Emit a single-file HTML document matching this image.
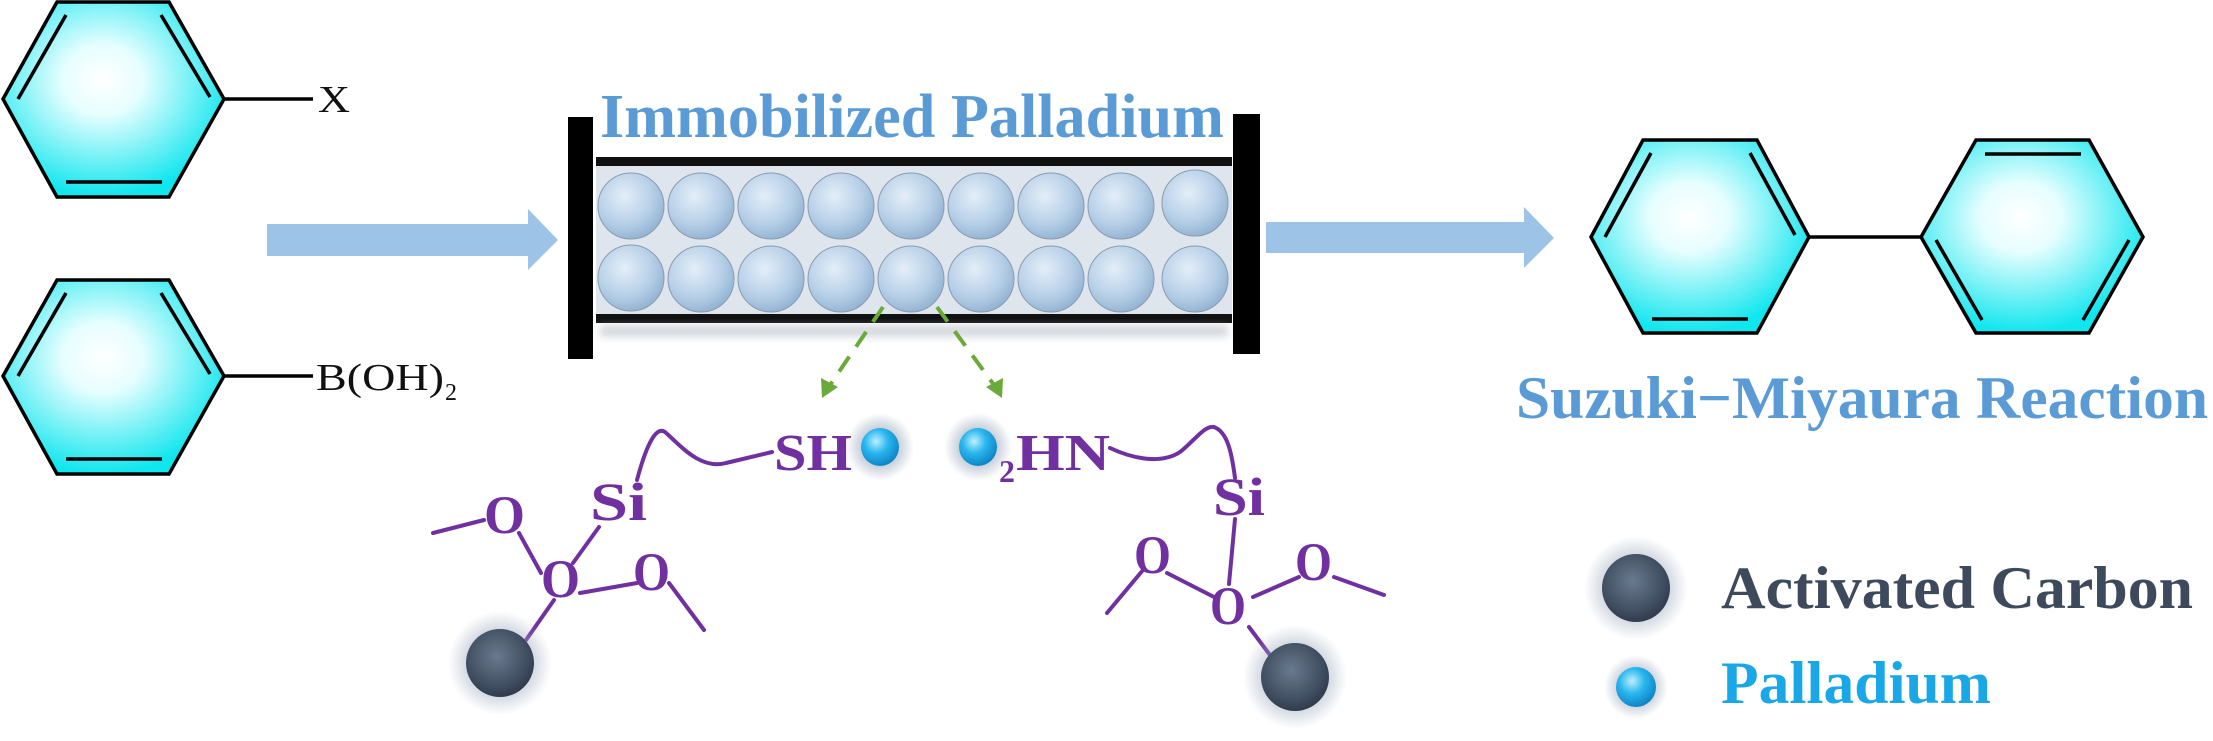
<!DOCTYPE html>
<html><head><meta charset="utf-8"><style>
html,body{margin:0;padding:0;background:#fff;}
svg{display:block;}
text{font-family:"Liberation Serif","Times New Roman",serif;}
</style></head><body>
<svg width="2213" height="741" viewBox="0 0 2213 741" xmlns="http://www.w3.org/2000/svg">
<defs>
<radialGradient id="bz" cx="0.45" cy="0.4" r="0.6">
<stop offset="0" stop-color="#ffffff"/><stop offset="0.3" stop-color="#e6feff"/><stop offset="1" stop-color="#10e6ee"/>
</radialGradient>
<radialGradient id="ball" cx="0.4" cy="0.35" r="0.7">
<stop offset="0" stop-color="#e4eef8"/><stop offset="0.6" stop-color="#b7d0e8"/><stop offset="1" stop-color="#8fb0d0"/>
</radialGradient>
<radialGradient id="carb" cx="0.45" cy="0.4" r="0.65">
<stop offset="0" stop-color="#6a7a8e"/><stop offset="0.7" stop-color="#3f4d60"/><stop offset="1" stop-color="#2c3646"/>
</radialGradient>
<radialGradient id="pd" cx="0.4" cy="0.35" r="0.7">
<stop offset="0" stop-color="#bdf0ff"/><stop offset="0.45" stop-color="#2ab6ee"/><stop offset="1" stop-color="#0a7fc0"/>
</radialGradient>
<radialGradient id="glow" cx="0.5" cy="0.5" r="0.5">
<stop offset="0.5" stop-color="#9aa8bc" stop-opacity="0.6"/><stop offset="1" stop-color="#9aa8bc" stop-opacity="0"/>
</radialGradient>
<filter id="blur" x="-20%" y="-50%" width="140%" height="200%"><feGaussianBlur stdDeviation="4"/></filter>
</defs>

<g stroke="#000" stroke-width="3.5" fill="none">
<polygon points="57,2 169,2 224,99 169,197 57,197 3,99" fill="url(#bz)"/>
<line x1="66" y1="15" x2="18" y2="99"/>
<line x1="161" y1="15" x2="210" y2="97"/>
<line x1="66" y1="182" x2="162" y2="182"/>
<line x1="224" y1="99" x2="313" y2="99"/>
</g>
<text x="318" y="112" font-size="38" fill="#111" textLength="32" lengthAdjust="spacingAndGlyphs">X</text>

<g stroke="#000" stroke-width="3.5" fill="none">
<polygon points="57,280 169,280 224,376 169,474 57,474 3,376" fill="url(#bz)"/>
<line x1="66" y1="293" x2="18" y2="376"/>
<line x1="161" y1="293" x2="210" y2="374"/>
<line x1="66" y1="459" x2="162" y2="459"/>
<line x1="224" y1="376" x2="313" y2="376"/>
</g>
<text x="316" y="390" font-size="38" fill="#111" textLength="128" lengthAdjust="spacingAndGlyphs">B(OH)</text>
<text x="445" y="400" font-size="24" fill="#111">2</text>

<polygon points="267,224 528,224 528,209 558,240 528,270 528,256 267,256" fill="#9dc3e6"/>

<text x="600" y="137" font-weight="bold" font-size="62" fill="#5b9bd5" textLength="624" lengthAdjust="spacingAndGlyphs">Immobilized Palladium</text>
<rect x="596" y="163" width="636" height="154" fill="#dfe5ec"/>
<rect x="596" y="157" width="636" height="9" fill="#111"/>
<rect x="596" y="314" width="636" height="9" fill="#111"/>
<rect x="600" y="325" width="628" height="12" fill="#aab4c0" opacity="0.5" filter="url(#blur)"/>
<g stroke="#8a9cb0" stroke-width="1">
<circle cx="631" cy="206" r="33" fill="url(#ball)"/><circle cx="701" cy="206" r="33" fill="url(#ball)"/><circle cx="771" cy="206" r="33" fill="url(#ball)"/><circle cx="841" cy="206" r="33" fill="url(#ball)"/><circle cx="911" cy="206" r="33" fill="url(#ball)"/><circle cx="981" cy="206" r="33" fill="url(#ball)"/><circle cx="1051" cy="206" r="33" fill="url(#ball)"/><circle cx="1121" cy="206" r="33" fill="url(#ball)"/><circle cx="1195" cy="203" r="33" fill="url(#ball)"/>
<circle cx="631" cy="278" r="33" fill="url(#ball)"/><circle cx="701" cy="279" r="33" fill="url(#ball)"/><circle cx="771" cy="279" r="33" fill="url(#ball)"/><circle cx="841" cy="279" r="33" fill="url(#ball)"/><circle cx="911" cy="279" r="33" fill="url(#ball)"/><circle cx="981" cy="279" r="33" fill="url(#ball)"/><circle cx="1051" cy="279" r="33" fill="url(#ball)"/><circle cx="1121" cy="279" r="33" fill="url(#ball)"/><circle cx="1195" cy="279" r="33" fill="url(#ball)"/>
</g>
<rect x="568" y="117" width="25" height="242" fill="#000"/>
<rect x="1233" y="114" width="27" height="240" fill="#000"/>

<polygon points="1266,222 1524,222 1524,207 1554,238 1524,268 1524,253 1266,253" fill="#9dc3e6"/>

<g stroke="#000" stroke-width="3.5" fill="none">
<polygon points="1643,140 1757,140 1809,237 1757,333 1643,333 1591,237" fill="url(#bz)"/>
<line x1="1651" y1="153" x2="1605" y2="237"/>
<line x1="1750" y1="153" x2="1795" y2="235"/>
<line x1="1652" y1="319" x2="1748" y2="319"/>
<line x1="1809" y1="237" x2="1921" y2="237"/>
<polygon points="1976,140 2089,140 2143,237 2089,333 1976,333 1921,237" fill="url(#bz)"/>
<line x1="1985" y1="154" x2="2081" y2="154"/>
<line x1="1936" y1="240" x2="1982" y2="320"/>
<line x1="2129" y1="240" x2="2083" y2="320"/>
</g>
<text x="1516" y="418" font-weight="bold" font-size="60" fill="#5b9bd5" textLength="692" lengthAdjust="spacingAndGlyphs">Suzuki−Miyaura Reaction</text>

<g stroke="#6aaa3a" stroke-width="4" stroke-dasharray="18,12" fill="none">
<line x1="883" y1="307" x2="830" y2="385"/>
<line x1="937" y1="307" x2="994" y2="385"/>
</g>
<polygon points="822,398 821,378 838,387" fill="#6aaa3a"/>
<polygon points="1002,398 986,387 1003,378" fill="#6aaa3a"/>

<g stroke="#7030a0" stroke-width="4" fill="none" stroke-linecap="round">
<path d="M637,480 C645,450 655,425 665,432 C680,445 700,470 726,463 L772,452"/>
<line x1="433" y1="533" x2="484" y2="520"/>
<line x1="519" y1="533" x2="541" y2="573"/>
<line x1="599" y1="527" x2="573" y2="563"/>
<line x1="580" y1="593" x2="637" y2="583"/>
<line x1="669" y1="583" x2="704" y2="630"/>
<line x1="554" y1="600" x2="526" y2="640"/>
</g>
<g font-weight="bold" fill="#7030a0">
<text x="590" y="520" font-size="54" textLength="57" lengthAdjust="spacingAndGlyphs">Si</text>
<text x="484" y="533" font-size="54" textLength="41" lengthAdjust="spacingAndGlyphs">O</text>
<text x="541" y="597" font-size="54" textLength="39" lengthAdjust="spacingAndGlyphs">O</text>
<text x="633" y="590" font-size="54" textLength="37" lengthAdjust="spacingAndGlyphs">O</text>
<text x="774" y="470" font-size="52" textLength="78" lengthAdjust="spacingAndGlyphs">SH</text>
<text x="999" y="482" font-size="32">2</text>
<text x="1016" y="470" font-size="52" textLength="94" lengthAdjust="spacingAndGlyphs">HN</text>
</g>
<circle cx="880" cy="447" r="34" fill="url(#glow)"/>
<circle cx="880" cy="447" r="19" fill="url(#pd)"/>
<circle cx="978" cy="447" r="34" fill="url(#glow)"/>
<circle cx="978" cy="447" r="19" fill="url(#pd)"/>
<circle cx="500" cy="663" r="52" fill="url(#glow)"/>
<circle cx="500" cy="663" r="34" fill="url(#carb)"/>

<g stroke="#7030a0" stroke-width="4" fill="none" stroke-linecap="round">
<path d="M1110,448 C1140,462 1165,462 1180,452 C1195,440 1205,425 1214,427 C1228,432 1232,455 1235,478"/>
<line x1="1235" y1="519" x2="1229" y2="584"/>
<line x1="1107" y1="613" x2="1143" y2="570"/>
<line x1="1167" y1="573" x2="1214" y2="597"/>
<line x1="1253" y1="597" x2="1299" y2="577"/>
<line x1="1334" y1="577" x2="1384" y2="595"/>
<line x1="1249" y1="627" x2="1270" y2="655"/>
</g>
<g font-weight="bold" fill="#7030a0">
<text x="1213" y="515" font-size="54" textLength="52" lengthAdjust="spacingAndGlyphs">Si</text>
<text x="1134" y="573" font-size="54" textLength="37" lengthAdjust="spacingAndGlyphs">O</text>
<text x="1210" y="624" font-size="54" textLength="36" lengthAdjust="spacingAndGlyphs">O</text>
<text x="1295" y="580" font-size="54" textLength="37" lengthAdjust="spacingAndGlyphs">O</text>
</g>
<circle cx="1295" cy="677" r="52" fill="url(#glow)"/>
<circle cx="1295" cy="677" r="34" fill="url(#carb)"/>

<circle cx="1636" cy="588" r="52" fill="url(#glow)"/>
<circle cx="1636" cy="588" r="34" fill="url(#carb)"/>
<circle cx="1636" cy="687" r="32" fill="url(#glow)"/>
<circle cx="1636" cy="687" r="20" fill="url(#pd)"/>
<text x="1721" y="608" font-weight="bold" font-size="60" fill="#3d4a5c" textLength="472" lengthAdjust="spacingAndGlyphs">Activated Carbon</text>
<text x="1721" y="703" font-weight="bold" font-size="60" fill="#1aa7e8" textLength="270" lengthAdjust="spacingAndGlyphs">Palladium</text>
</svg>
</body></html>
